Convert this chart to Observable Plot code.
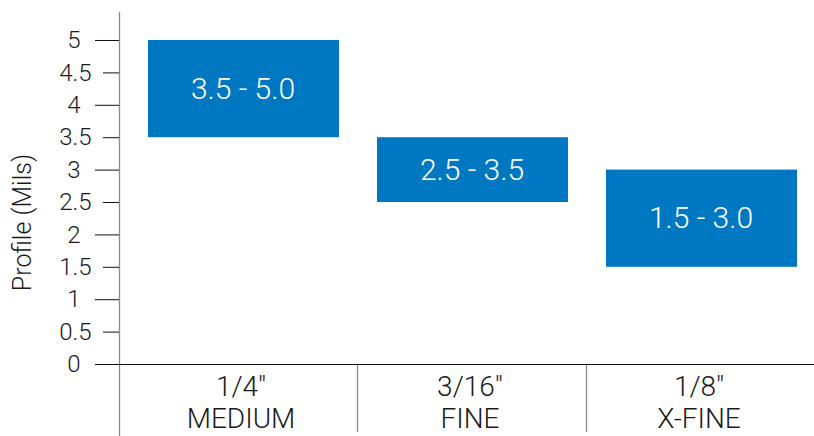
<!DOCTYPE html>
<html>
<head>
<meta charset="utf-8">
<script src="https://cdn.jsdelivr.net/npm/d3@7"></script>
<script src="https://cdn.jsdelivr.net/npm/@observablehq/plot@0.6"></script>
<style>
  html, body { margin: 0; padding: 0; background: #fff; }
  #chart svg { display: block; font-family: Roboto, "Liberation Sans", sans-serif; font-weight: 300; }
</style>
</head>
<body>
<div id="chart"></div>
<script>
// Data
const categories = ["1/4″ MEDIUM", "3/16″ FINE", "1/8″ X-FINE"];
const sizeLabels = ["1/4″", "3/16″", "1/8″"];
const gradeLabels = ["MEDIUM", "FINE", "X-FINE"];
const lows = [3.5, 2.5, 1.5];
const highs = [5.0, 3.5, 3.0];
const rangeLabels = ["3.5 - 5.0", "2.5 - 3.5", "1.5 - 3.0"];
const yMajorTicks = [0, 1, 2, 3, 4, 5];
const yMinorTicks = [0.5, 1.5, 2.5, 3.5, 4.5];
const yTitle = "Profile (Mils)";

const rows = categories.map((c, i) => ({
  cat: c, lo: lows[i], hi: highs[i], label: rangeLabels[i]
}));

const W = 814, H = 436;
const mTop = 12, mBottom = 72, mLeft = 119;
const xRange = [128, 815];
const step = (xRange[1] - xRange[0]) / categories.length;
const plotH = H - mTop - mBottom;
const blue = "#0078C1";
const gray = "#8a8a8a";
const ink = "#1a1a1a";

const chart = Plot.plot({
  width: W,
  height: H,
  marginTop: mTop,
  marginBottom: mBottom,
  marginLeft: mLeft,
  marginRight: 0,
  x: { type: "band", domain: categories, range: xRange, padding: 0 },
  y: { domain: [0, 5.432] },
  style: { fontSize: "24px", fontFamily: "Roboto, 'Liberation Sans', sans-serif", color: ink },
  marks: [
    Plot.barY(rows, { x: "cat", y1: "lo", y2: "hi", fill: blue, insetLeft: 20, insetRight: 18 }),
    Plot.text(rows, { x: "cat", y: d => (d.lo + d.hi) / 2, text: "label", fill: "white", fontSize: 30, fontWeight: 300 }),
    Plot.frame({ anchor: "left", stroke: gray, strokeWidth: 1.3, insetBottom: -71 }),
    Plot.ruleX(categories.slice(1), { x: d => d, dx: -step / 2, insetTop: plotH, insetBottom: -68, stroke: gray, strokeWidth: 1.3 }),
    Plot.ruleY([0], { stroke: "#111", strokeWidth: 1.2 }),
    Plot.axisY({ ticks: yMajorTicks, tickSize: 24, tickPadding: 15, tickFormat: d => String(d), fontSize: 24, label: null, stroke: "#111", fill: ink }),
    Plot.axisY({ ticks: yMinorTicks, tickSize: 16, tickPadding: 12, tickFormat: d => String(d), fontSize: 24, label: null, stroke: "#111", fill: ink }),
    Plot.axisX({ tickSize: 0, tickPadding: 9, dx: -2, tickFormat: (d, i) => sizeLabels[i] + "\n" + gradeLabels[i], fontSize: 28, lineHeight: 1.14, label: null, fill: ink }),
    Plot.text([yTitle], { frameAnchor: "left", textAnchor: "middle", rotate: -90, dx: -97, dy: 34, fontSize: 25, fill: ink })
  ]
});
document.getElementById("chart").appendChild(chart);
</script>
</body>
</html>
